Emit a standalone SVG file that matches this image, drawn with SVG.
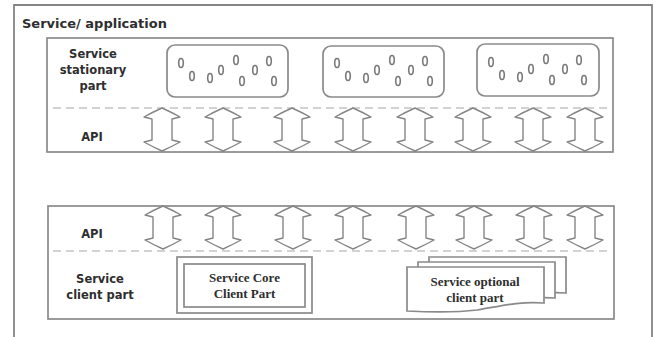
<svg xmlns="http://www.w3.org/2000/svg" xmlns:xlink="http://www.w3.org/1999/xlink" width="654" height="337" viewBox="0 0 654 337">
<style>
.frame{fill:none;stroke:#858585;stroke-width:1.8}
.box{fill:#fff;stroke:#8a8a8a;stroke-width:1.7}
.dash{stroke:#c4c4c4;stroke-width:1.6;stroke-dasharray:8,5;fill:none}
.oval{fill:none;stroke:#7a7a7a;stroke-width:1.6}
.arr{fill:#fff;stroke:#858585;stroke-width:1.4;stroke-linejoin:round}
.lbl{font-family:"DejaVu Sans",Verdana,sans-serif;font-weight:bold;font-size:11.5px;fill:#2e2e2e;text-anchor:middle}
.title{font-family:"DejaVu Sans",Verdana,sans-serif;font-weight:bold;font-size:13px;fill:#2e2e2e}
.ser{font-family:"Liberation Serif","Times New Roman",serif;font-weight:bold;font-size:13px;fill:#2e2e2e;text-anchor:middle}
</style>
<defs>
<path id="dbl" class="arr" d="M0,0 Q9,4 18,9 L10,11 L10,32 L18,34 Q9,39 0,43 Q-9,39 -18,34 L-10,32 L-10,11 L-18,9 Q-9,4 0,0 Z"/>
<g id="ovals">
<ellipse cx="181" cy="63" rx="2.3" ry="4.5"/>
<ellipse cx="192" cy="76" rx="2.3" ry="4.5"/>
<ellipse cx="210" cy="78" rx="2.3" ry="4.5"/>
<ellipse cx="221" cy="70" rx="2.3" ry="4.5"/>
<ellipse cx="236" cy="60" rx="2.3" ry="4.5"/>
<ellipse cx="242" cy="81" rx="2.3" ry="4.5"/>
<ellipse cx="255" cy="70" rx="2.3" ry="4.5"/>
<ellipse cx="269" cy="61" rx="2.3" ry="4.5"/>
<ellipse cx="274" cy="81" rx="2.3" ry="4.5"/>
</g>
<path id="doc" d="M0,0 H137 V36 C110,34 90,40 70,43 C45,46 20,45 0,44 Z"/>
</defs>

<g id="service-application">
<path class="frame" d="M14,337 V5 H652 V337"/>
<text class="title" x="22" y="28">Service/ application</text>
</g>

<g id="stationary-part">
<rect class="box" x="47" y="38" width="566" height="114"/>
<line class="dash" x1="53" y1="108" x2="612" y2="108"/>
<text class="lbl" x="93" y="57.5">Service</text>
<text class="lbl" x="93" y="74">stationary</text>
<text class="lbl" x="93" y="90">part</text>
<text class="lbl" x="92" y="141">API</text>
</g>

<g id="module-1">
<rect class="box" x="167" y="45" width="121" height="52" rx="8"/>
<use xlink:href="#ovals" class="oval"/>
</g>
<g id="module-2">
<rect class="box" x="323" y="46" width="121" height="51" rx="8"/>
<use xlink:href="#ovals" class="oval" transform="translate(156,0)"/>
</g>
<g id="module-3">
<rect class="box" x="477" y="44" width="122" height="52" rx="8"/>
<use xlink:href="#ovals" class="oval" transform="translate(310,-1)"/>
</g>

<g id="client-part">
<rect class="box" x="48" y="206" width="566" height="113"/>
<line class="dash" x1="53" y1="251" x2="612" y2="251"/>
<text class="lbl" x="92" y="238">API</text>
<text class="lbl" x="100" y="283">Service</text>
<text class="lbl" x="100" y="299">client part</text>
</g>

<g id="core-client-part">
<rect class="box" x="177" y="257" width="135" height="56"/>
<rect class="box" x="184" y="264" width="121" height="43"/>
<text class="ser" x="244.5" y="282">Service Core</text>
<text class="ser" x="244.5" y="298">Client Part</text>
</g>

<g id="optional-client-part">
<use xlink:href="#doc" class="box" transform="translate(429,257)"/>
<use xlink:href="#doc" class="box" transform="translate(418,262)"/>
<use xlink:href="#doc" class="box" transform="translate(407,267)"/>
<text class="ser" x="475" y="286">Service optional</text>
<text class="ser" x="475" y="302">client part</text>
</g>

<g id="connectors">
<use xlink:href="#dbl" x="162" y="108"/>
<use xlink:href="#dbl" x="223" y="108"/>
<use xlink:href="#dbl" x="292" y="108"/>
<use xlink:href="#dbl" x="353" y="108"/>
<use xlink:href="#dbl" x="415" y="108"/>
<use xlink:href="#dbl" x="473" y="108"/>
<use xlink:href="#dbl" x="533" y="108"/>
<use xlink:href="#dbl" x="585" y="108"/>
<use xlink:href="#dbl" x="163" y="206"/>
<use xlink:href="#dbl" x="223" y="206"/>
<use xlink:href="#dbl" x="293" y="206"/>
<use xlink:href="#dbl" x="353" y="206"/>
<use xlink:href="#dbl" x="416" y="206"/>
<use xlink:href="#dbl" x="474" y="206"/>
<use xlink:href="#dbl" x="534" y="206"/>
<use xlink:href="#dbl" x="585" y="206"/>
</g>
</svg>
